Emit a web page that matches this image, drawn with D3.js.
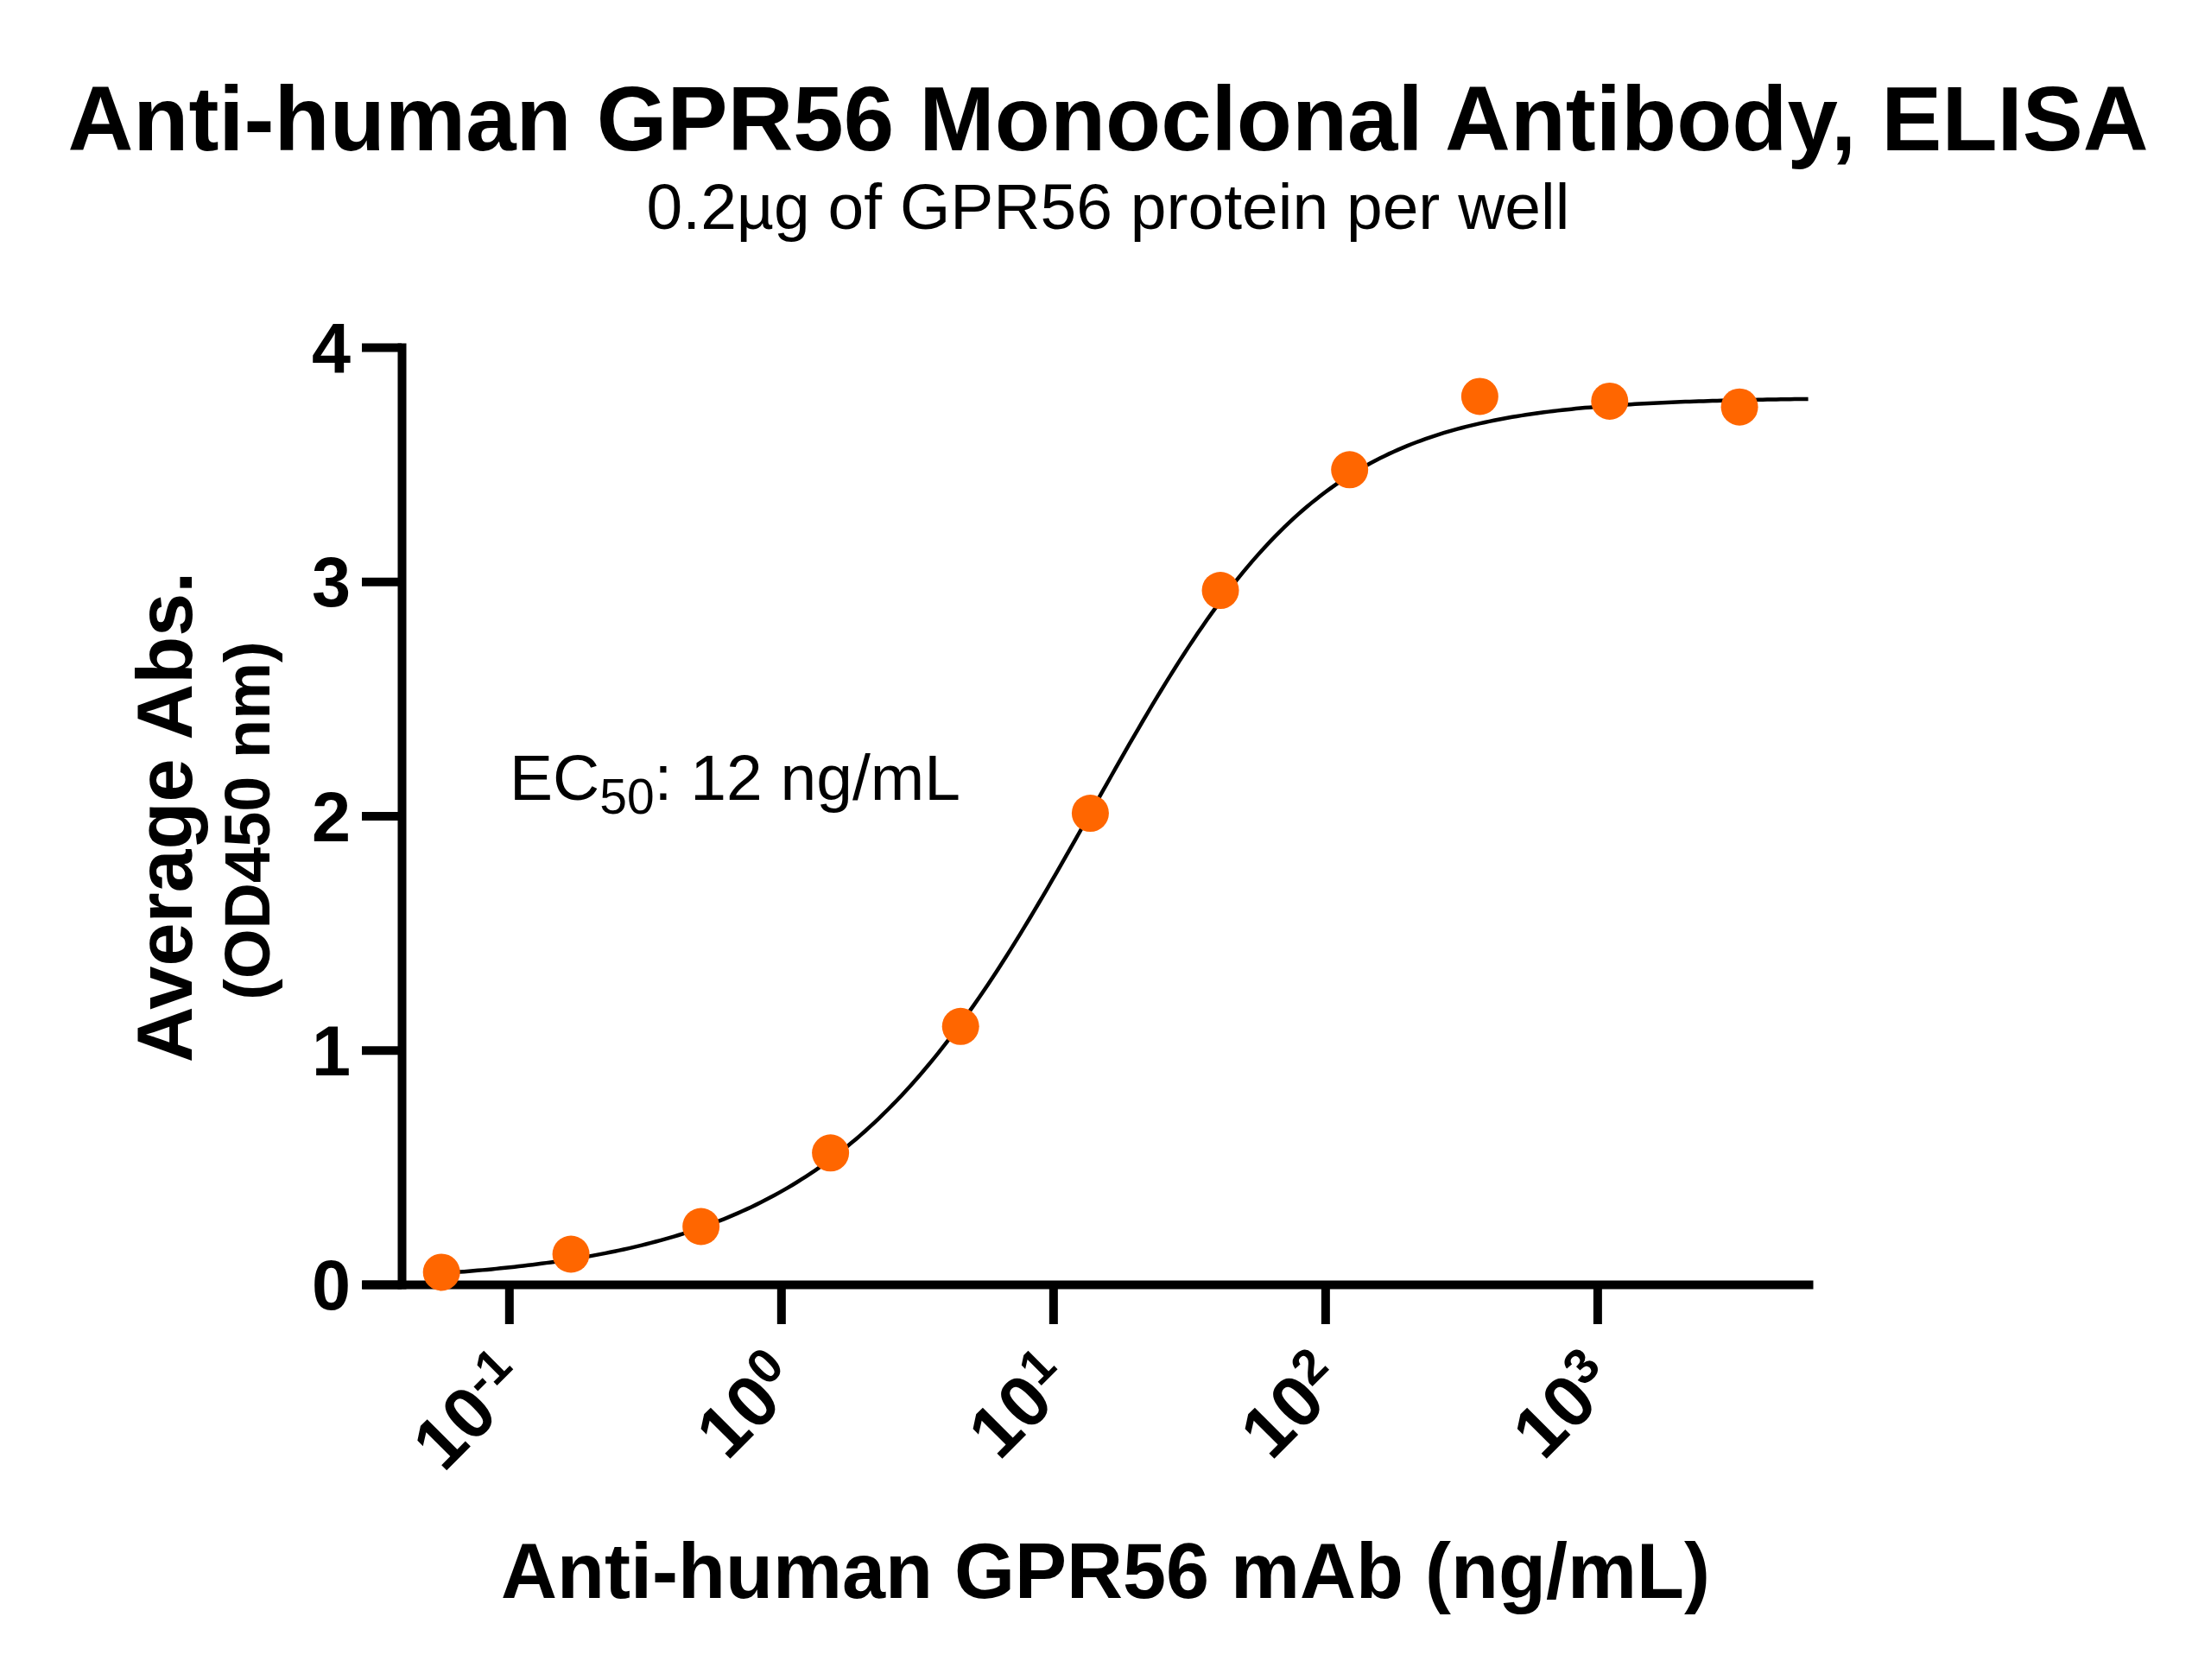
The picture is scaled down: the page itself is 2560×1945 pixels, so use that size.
<!DOCTYPE html>
<html>
<head>
<meta charset="utf-8">
<script src="https://cdn.jsdelivr.net/npm/d3@7"></script>
<style>
  body { margin: 0; background: #fff; }
  svg { display: block; font-family: "Liberation Sans", Arial, sans-serif; }
</style>
</head>
<body>
<svg width="2560" height="1945"></svg>
<script>
// ng/mL, 3-fold dilution series
var concentration = [0.0565, 0.169, 0.508, 1.52, 4.57, 13.7, 41.2, 123, 370, 1111, 3333];
// OD450
var absorbance = [0.052, 0.129, 0.247, 0.561, 1.101, 2.011, 2.962, 3.477, 3.790, 3.770, 3.745];

var yTicks = [0, 1, 2, 3, 4];
var xTickExponents = [-1, 0, 1, 2, 3];

// fitted asymmetric sigmoid (EC50 about 12 ng/mL)
var fitBottom = 0;
var fitTop = 3.785;
var fitC = 19.6;
var fitHill = 1.07;
var fitAsym = 0.7;
var fitRange = [0.0565, 5960];

var svg = d3.select('svg');
svg.append('rect').attr('width', 2560).attr('height', 1945).attr('fill', '#fff');

var x = d3.scaleLog().domain([0.0288, 6200]).range([419, 2099]);
var y = d3.scaleLinear().domain([0, 4]).range([1487, 402]);

function model(c) {
	return fitBottom + (fitTop - fitBottom) / Math.pow(1 + Math.pow(fitC / c, fitHill), fitAsym);
}

// title
svg.append('text')
	.attr('x', 1283).attr('y', 174)
	.attr('text-anchor', 'middle')
	.attr('font-size', 105).attr('font-weight', 'bold')
	.text('Anti-human GPR56 Monoclonal Antibody, ELISA');

svg.append('text')
	.attr('x', 1283).attr('y', 265)
	.attr('text-anchor', 'middle')
	.attr('font-size', 75)
	.text('0.2µg of GPR56 protein per well');

// axes
var xAxis = d3.axisBottom(x)
	.tickValues(xTickExponents.map(function (e) { return Math.pow(10, e); }))
	.tickSize(46).tickSizeOuter(0).tickFormat('');

var yAxis = d3.axisLeft(y)
	.tickValues(yTicks)
	.tickSize(46).tickSizeOuter(0).tickFormat('');

var gx = svg.append('g').attr('transform', 'translate(0,1487)').call(xAxis);
gx.select('.domain').attr('stroke', '#000').attr('stroke-width', 10);
gx.selectAll('.tick line').attr('stroke', '#000').attr('stroke-width', 10);

var gy = svg.append('g').attr('transform', 'translate(465,0)').call(yAxis);
gy.select('.domain').attr('stroke', '#000').attr('stroke-width', 10).attr('stroke-linecap', 'square');
gy.selectAll('.tick line').attr('stroke', '#000').attr('stroke-width', 10);

// y tick labels
svg.append('g').selectAll('text')
	.data(yTicks)
	.join('text')
	.attr('x', 406)
	.attr('y', function (d) { return y(d) + 29; })
	.attr('text-anchor', 'end')
	.attr('font-size', 81).attr('font-weight', 'bold')
	.text(function (d) { return d; });

// x tick labels, 10^n rotated
var xl = svg.append('g').selectAll('text')
	.data(xTickExponents)
	.join('text')
	.attr('text-anchor', 'end')
	.attr('font-weight', 'bold')
	.attr('transform', function (d) {
		return 'translate(' + (x(Math.pow(10, d)) + 26) + ',1604) rotate(-45)';
	});
xl.append('tspan').attr('font-size', 84).text('10');
xl.append('tspan').attr('font-size', 57).attr('dy', -28).text(function (d) { return d; });

// axis titles
svg.append('text')
	.attr('x', 1280).attr('y', 1850)
	.attr('text-anchor', 'middle')
	.attr('font-size', 90).attr('font-weight', 'bold')
	.text('Anti-human GPR56 mAb (ng/mL)');

svg.append('text')
	.attr('transform', 'translate(222,946) rotate(-90)')
	.attr('text-anchor', 'middle')
	.attr('font-size', 90).attr('font-weight', 'bold')
	.text('Average Abs.');

svg.append('text')
	.attr('transform', 'translate(312,950) rotate(-90)')
	.attr('text-anchor', 'middle')
	.attr('font-size', 74).attr('font-weight', 'bold')
	.text('(OD450 nm)');

// EC50 note
var ec = svg.append('text')
	.attr('x', 590).attr('y', 926)
	.attr('font-size', 75);
ec.append('tspan').text('EC');
ec.append('tspan').attr('font-size', 57).attr('dy', 16).text('50');
ec.append('tspan').attr('dy', -16).text(': 12 ng/mL');

// fitted curve
var curveX = d3.range(0, 301).map(function (i) {
	return fitRange[0] * Math.pow(fitRange[1] / fitRange[0], i / 300);
});
var line = d3.line()
	.x(function (d) { return x(d); })
	.y(function (d) { return y(model(d)); });

svg.append('path')
	.datum(curveX)
	.attr('d', line)
	.attr('fill', 'none')
	.attr('stroke', '#000')
	.attr('stroke-width', 4.5);

// data points
svg.append('g').selectAll('circle')
	.data(concentration)
	.join('circle')
	.attr('cx', function (d) { return x(d); })
	.attr('cy', function (d, i) { return y(absorbance[i]); })
	.attr('r', 21.5)
	.attr('fill', '#ff6600');
</script>
</body>
</html>
